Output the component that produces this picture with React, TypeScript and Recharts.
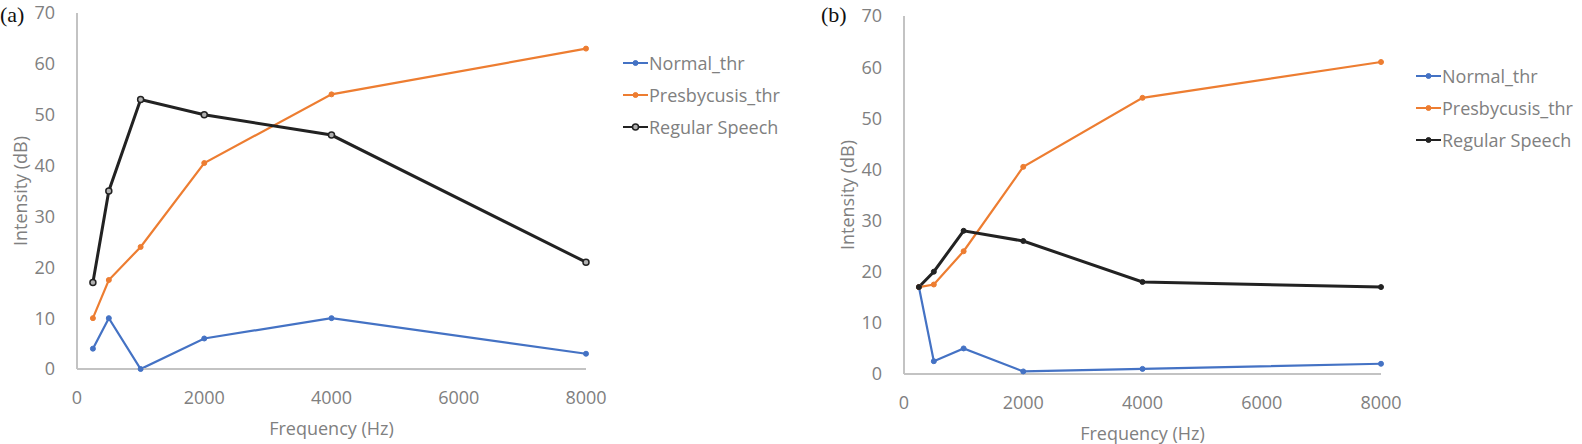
import React from "react";
import {LineChart, Line, XAxis, YAxis, Legend, Label} from "recharts";

// hearing thresholds vs. regular speech level, two scenarios
const frequencies = [250, 500, 1000, 2000, 4000, 8000];

const normalA = [4, 10, 0, 6, 10, 3];
const presbyA = [10, 17.5, 24, 40.5, 54, 63];
const speechA = [17, 35, 53, 50, 46, 21];

const normalB = [17, 2.5, 5, 0.5, 1, 2];
const presbyB = [17, 17.5, 24, 40.5, 54, 61];
const speechB = [17, 20, 28, 26, 18, 17];

const xTicks = [0, 2000, 4000, 6000, 8000];
const yTicks = [0, 10, 20, 30, 40, 50, 60, 70];

const seriesNames = ["Normal_thr", "Presbycusis_thr", "Regular Speech"];

const BLUE = "#4472c4";
const ORANGE = "#ed7d31";
const DARK = "#222222";
const AXIS = "#c3c3c3";
const TEXT = "#808080";
const FONT = "'Open Sans', sans-serif";

type Row = { freq: number; normal: number; presby: number; speech: number };

const buildRows = (normal: number[], presby: number[], speech: number[]): Row[] =>
    frequencies.map((freq, i) => ({freq, normal: normal[i], presby: presby[i], speech: speech[i]}));

type DotStyle = { r: number; fill: string; stroke: string; strokeWidth: number };

type PanelProps = {
    tag: string;
    rows: Row[];
    left: number;
    width: number;
    margin: { top: number; right: number; bottom: number; left: number };
    xAxisHeight: number;
    yAxisWidth: number;
    legendLeft: number;
    legendTop: number;
    tagLeft: number;
    speechDot: DotStyle;
};

function LegendBox({dots}: { dots: DotStyle[] }) {
    const colors = [BLUE, ORANGE, DARK];
    return (
        <div style={{fontFamily: FONT, fontSize: 18, color: TEXT}}>
            {seriesNames.map((name, i) => (
                <div key={name} style={{display: "flex", alignItems: "center", height: 32}}>
                    <svg width={25} height={10} style={{marginRight: 1}}>
                        <line x1={0} y1={5} x2={25} y2={5} stroke={colors[i]} strokeWidth={2}/>
                        <circle cx={12.5} cy={5} r={dots[i].r} fill={dots[i].fill} stroke={dots[i].stroke}
                                strokeWidth={dots[i].strokeWidth}/>
                    </svg>
                    <span style={{lineHeight: "32px"}}>{name}</span>
                </div>
            ))}
        </div>
    );
}

function Panel(p: PanelProps) {
    const blueDot = {r: 2.5, fill: BLUE, stroke: BLUE, strokeWidth: 1};
    const orangeDot = {r: 2.5, fill: ORANGE, stroke: ORANGE, strokeWidth: 1};
    const tick = {fill: TEXT, fontSize: 18, fontFamily: FONT};
    return (
        <div style={{position: "absolute", left: p.left, top: 0}}>
            <LineChart width={p.width} height={444} data={p.rows} margin={p.margin}>
                <XAxis dataKey="freq" type="number" domain={[0, 8000]} ticks={xTicks} height={p.xAxisHeight}
                       tick={tick} tickLine={false} tickSize={0} tickMargin={22}
                       axisLine={{stroke: AXIS, strokeWidth: 2}}>
                    <Label content={({viewBox}: any) => (
                        <text x={viewBox.x + viewBox.width / 2} y={viewBox.y + 59} textAnchor="middle"
                              dominantBaseline="central" fill={TEXT} fontSize={18} fontFamily={FONT}>
                            Frequency (Hz)
                        </text>
                    )}/>
                </XAxis>
                <YAxis type="number" domain={[0, 70]} ticks={yTicks} width={p.yAxisWidth} tick={tick}
                       tickLine={false} tickSize={0} tickMargin={22} axisLine={{stroke: AXIS, strokeWidth: 2}}>
                    <Label content={({viewBox}: any) => {
                        const cx = viewBox.x + viewBox.width - 57;
                        const cy = viewBox.y + viewBox.height / 2;
                        return (
                            <text x={cx} y={cy} transform={`rotate(-90 ${cx} ${cy})`} textAnchor="middle"
                                  dominantBaseline="central" fill={TEXT} fontSize={18} fontFamily={FONT}>
                                Intensity (dB)
                            </text>
                        );
                    }}/>
                </YAxis>
                <Legend layout="vertical" align="center" verticalAlign="middle"
                        wrapperStyle={{left: p.legendLeft, top: p.legendTop, width: 180}}
                        content={() => <LegendBox dots={[blueDot, orangeDot, p.speechDot]}/>}/>
                <Line dataKey="normal" name={seriesNames[0]} stroke={BLUE} strokeWidth={2.2} dot={blueDot}
                      isAnimationActive={false}/>
                <Line dataKey="presby" name={seriesNames[1]} stroke={ORANGE} strokeWidth={2.2} dot={orangeDot}
                      isAnimationActive={false}/>
                <Line dataKey="speech" name={seriesNames[2]} stroke={DARK} strokeWidth={3} dot={p.speechDot}
                      isAnimationActive={false}/>
            </LineChart>
            <span style={{
                position: "absolute", left: p.tagLeft, top: 2, fontFamily: "'Liberation Serif', serif",
                fontSize: 22, color: "#111", lineHeight: "26px"
            }}>{p.tag}</span>
        </div>
    );
}

export default function App() {
    return (
        <div style={{position: "absolute", left: 0, top: 0, width: 1582, height: 444, background: "#fff"}}>
            <Panel tag="(a)" rows={buildRows(normalA, presbyA, speechA)} left={0} width={800}
                   margin={{top: 13, right: 214, bottom: 0, left: 0}} xAxisHeight={75} yAxisWidth={77}
                   legendLeft={623} legendTop={47} tagLeft={0}
                   speechDot={{r: 3, fill: "#b0b0b0", stroke: DARK, strokeWidth: 1.5}}/>
            <Panel tag="(b)" rows={buildRows(normalB, presbyB, speechB)} left={827} width={755}
                   margin={{top: 16, right: 201, bottom: 0, left: 0}} xAxisHeight={70} yAxisWidth={77}
                   legendLeft={589} legendTop={60} tagLeft={-6}
                   speechDot={{r: 2.5, fill: DARK, stroke: DARK, strokeWidth: 1}}/>
        </div>
    );
}
